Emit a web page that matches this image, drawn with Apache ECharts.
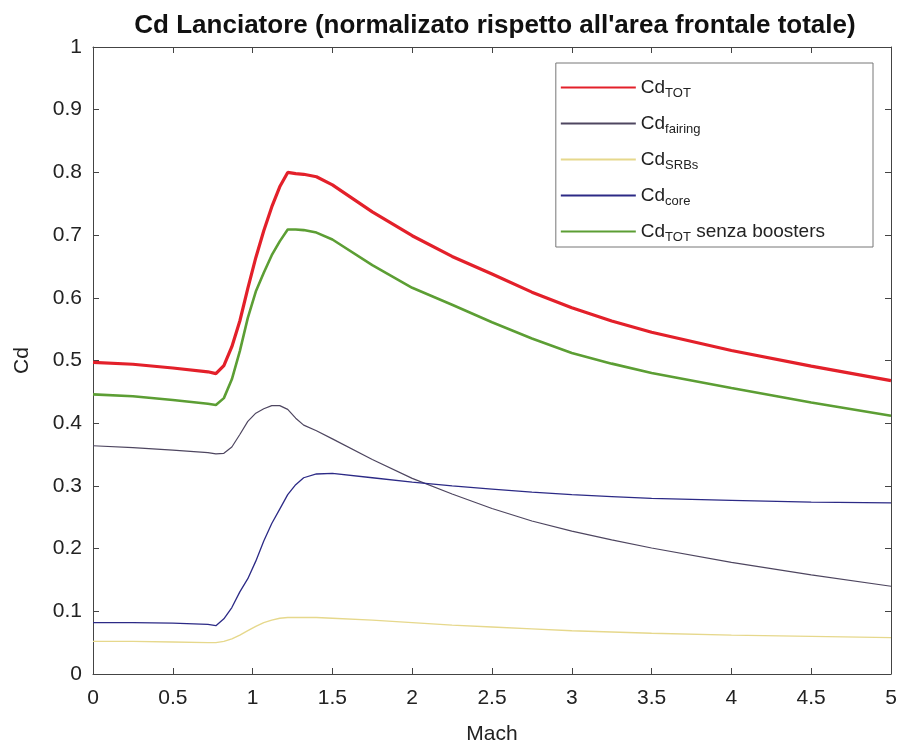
<!DOCTYPE html>
<html><head><meta charset="utf-8">
<script src="https://cdn.jsdelivr.net/npm/echarts@6/dist/echarts.min.js"></script>
<style>html,body{margin:0;padding:0;background:#fff}#c{width:901px;height:746px}</style>
</head><body><div id="c"></div>
<script>
var mach = [0, 0.25, 0.5, 0.72, 0.77, 0.82, 0.87, 0.92, 0.97, 1.02, 1.07, 1.12, 1.17, 1.22, 1.27, 1.32, 1.4, 1.5, 1.75, 2, 2.25, 2.5, 2.75, 3, 3.25, 3.5, 4, 4.5, 5];
var cdTot = [0.497, 0.494, 0.488, 0.482, 0.479, 0.492, 0.522, 0.563, 0.615, 0.664, 0.707, 0.745, 0.777, 0.800, 0.798, 0.797, 0.793, 0.780, 0.737, 0.699, 0.666, 0.638, 0.609, 0.584, 0.563, 0.545, 0.516, 0.491, 0.468];
var cdFairing = [0.364, 0.361, 0.357, 0.353, 0.351, 0.352, 0.362, 0.382, 0.403, 0.416, 0.423, 0.428, 0.428, 0.422, 0.408, 0.397, 0.388, 0.375, 0.342, 0.312, 0.287, 0.264, 0.244, 0.228, 0.214, 0.201, 0.178, 0.158, 0.140];
var cdSRBs = [0.052, 0.052, 0.051, 0.050, 0.050, 0.052, 0.056, 0.062, 0.069, 0.076, 0.082, 0.086, 0.089, 0.090, 0.090, 0.090, 0.090, 0.089, 0.086, 0.082, 0.078, 0.075, 0.072, 0.069, 0.067, 0.065, 0.062, 0.060, 0.058];
var cdCore = [0.082, 0.082, 0.081, 0.079, 0.077, 0.088, 0.106, 0.131, 0.152, 0.180, 0.212, 0.240, 0.263, 0.286, 0.302, 0.313, 0.319, 0.320, 0.313, 0.306, 0.300, 0.295, 0.290, 0.286, 0.283, 0.280, 0.277, 0.274, 0.273];
var cdNoBoost = [0.446, 0.443, 0.437, 0.431, 0.429, 0.440, 0.470, 0.515, 0.568, 0.610, 0.640, 0.668, 0.690, 0.709, 0.709, 0.708, 0.704, 0.693, 0.652, 0.616, 0.589, 0.561, 0.535, 0.512, 0.495, 0.480, 0.456, 0.433, 0.412];
var seriesNames = ['Cd_TOT', 'Cd_fairing', 'Cd_SRBs', 'Cd_core', 'Cd_TOT senza boosters'];

function pairs(ys){ return mach.map(function(x,i){ return [x, ys[i]]; }); }
var FONT = 'Liberation Sans, Arial, sans-serif';
var chart = echarts.init(document.getElementById('c'), null, {renderer:'canvas'});
function mkSeries(name, data, color, width){
  return {name:name, type:'line', data:pairs(data), showSymbol:false, symbol:'none', smooth:false,
    lineStyle:{color:color, width:width}, itemStyle:{color:color}, z: 3};
}
var axisCommonX = {type:'value', min:0, max:5, interval:0.5,
  axisLine:{show:true, onZero:false, lineStyle:{color:'#444', width:1}},
  axisTick:{show:true, inside:true, length:6, lineStyle:{color:'#444'}},
  splitLine:{show:false}};
var axisCommonY = {type:'value', min:0, max:1, interval:0.1,
  axisLine:{show:true, onZero:false, lineStyle:{color:'#444', width:1}},
  axisTick:{show:true, inside:true, length:6, lineStyle:{color:'#444'}},
  splitLine:{show:false}};
chart.setOption({
  animation:false,
  backgroundColor:'#fff',
  title:{text:'Cd Lanciatore (normalizato rispetto all\'area frontale totale)', left:490, textAlign:'center', top:8,
    textStyle:{fontFamily:FONT, fontWeight:'bold', fontSize:26, color:'#111'}},
  grid:{left:93, right:10, top:47, bottom:72, containLabel:false, outerBoundsMode:'none'},
  legend:{orient:'vertical', right:28, top:63, itemWidth:75, itemHeight:14, itemGap:11,
    backgroundColor:'#fff', borderColor:'#777', borderWidth:1, padding:[12,48,3,5],
    icon:'path://M0,6L75,6L75,8L0,8Z',
    data:seriesNames,
    formatter:function(n){
      if(n==='Cd_TOT senza boosters') return '{a|Cd}{s|TOT}{a| senza boosters}';
      var p=n.split('_'); return '{a|'+p[0]+'}{s|'+p[1]+'}';
    },
    textStyle:{fontFamily:FONT, color:'#222', rich:{
      a:{fontSize:19, fontFamily:FONT, color:'#222', lineHeight:22},
      s:{fontSize:13, fontFamily:FONT, color:'#222', padding:[12,0,0,0], lineHeight:14}
    }}},
  xAxis:[Object.assign({}, axisCommonX, {position:'bottom', name:'Mach', nameLocation:'middle', nameGap:50,
      nameTextStyle:{fontFamily:FONT, fontSize:21, color:'#222'},
      axisLabel:{fontFamily:FONT, fontSize:21, color:'#222', margin:14}}),
    Object.assign({}, axisCommonX, {position:'top', axisLabel:{show:false}})],
  yAxis:[Object.assign({}, axisCommonY, {position:'left', name:'Cd', nameLocation:'middle', nameGap:60,
      nameTextStyle:{fontFamily:FONT, fontSize:21, color:'#222'},
      axisLabel:{fontFamily:FONT, fontSize:21, color:'#222', margin:11}}),
    Object.assign({}, axisCommonY, {position:'right', axisLabel:{show:false}})],
  series:[
    mkSeries(seriesNames[0], cdTot, '#e3202a', 3.2),
    mkSeries(seriesNames[1], cdFairing, '#4e4660', 1.2),
    mkSeries(seriesNames[2], cdSRBs, '#e6d88c', 1.4),
    mkSeries(seriesNames[3], cdCore, '#2c2a86', 1.3),
    mkSeries(seriesNames[4], cdNoBoost, '#5c9e34', 2.6)
  ]
});
</script></body></html>
